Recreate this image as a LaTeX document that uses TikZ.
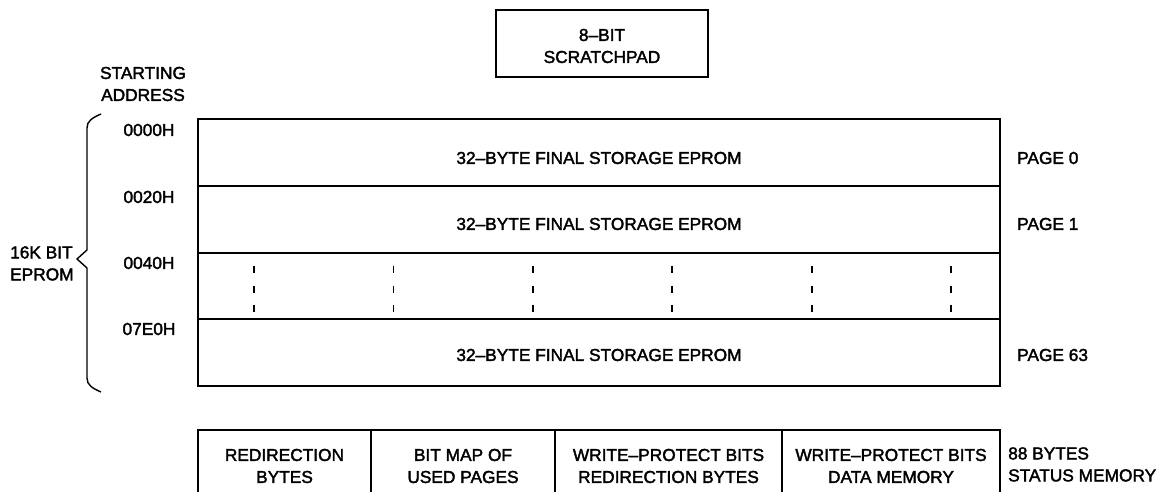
\documentclass[tikz,border=0pt]{standalone}
\usepackage{fontspec}
\setmainfont{Liberation Sans}[FakeBold=2]
\begin{document}
\begin{tikzpicture}[x=1pt,y=-1pt,
  lbl/.style={inner sep=0pt, font=\fontsize{17.3}{22}\selectfont, align=center},
  lbll/.style={lbl, align=left, anchor=west},
  rowbox/.style={draw, line width=1.8pt, minimum width=802pt, minimum height=66.75pt, inner sep=0pt},
  thin/.style={line width=1.5pt},
  dsh/.style={line width=1.8pt}
]
\useasboundingbox (0,0) rectangle (1160,492);
% scratchpad
\node[draw, line width=1.5pt, minimum width=212pt, minimum height=67pt, inner sep=0pt] (sp) at (602,43.5) {};
\node[lbl] (spt) at (602,46) {8–BIT\\SCRATCHPAD};
% header
\node[lbl] (sa) at (143,84) {STARTING\\ADDRESS};
% rows
\node[rowbox] (r0) at (599,152.5) {};
\node[rowbox] (r1) at (599,219.25) {};
\node[rowbox] (r2) at (599,286) {};
\node[rowbox] (r3) at (599,352.75) {};
\node[lbl] (t0) at (599,158) {32–BYTE FINAL STORAGE EPROM};
\node[lbl] (t1) at (599,224) {32–BYTE FINAL STORAGE EPROM};
\node[lbl] (t3) at (599,355) {32–BYTE FINAL STORAGE EPROM};
% dashes
\foreach \i in {0,...,5}{
  \foreach \yy in {269,289,308}{
    \draw[dsh] (254+139.4*\i,\yy-3.5) -- (254+139.4*\i,\yy+3.5);
  }
}
% addresses
\node[lbl] (a0) at (149,130) {0000H};
\node[lbl] (a1) at (149,197) {0020H};
\node[lbl] (a2) at (149,263) {0040H};
\node[lbl] (a3) at (149,329) {07E0H};
% pages
\node[lbll] (p0) at (1017,158) {PAGE 0};
\node[lbll] (p1) at (1017,224) {PAGE 1};
\node[lbll] (p3) at (1017,355) {PAGE 63};
% brace
\coordinate (bt) at (101,114);
\coordinate (bb) at (101,392);
\coordinate (bm) at (77,259);
\draw[line width=1.4pt] (bt) .. controls (92,118) and (87,121) .. (87,128) -- (87,250) -- (bm) -- (87,268) -- (87,378) .. controls (87,385) and (92,388) .. (bb);
\node[lbll] (ep) at (10,265) {\begin{tabular}{@{}l@{}}16K BIT\\EPROM\end{tabular}};
% status memory
\coordinate (s0) at (198,430);
\coordinate (s1) at (371,430);
\coordinate (s2) at (555,430);
\coordinate (s3) at (782,430);
\coordinate (s4) at (1000,430);
\draw[thin] (198,493) -- (s0) -- (s4) -- (1000,493);
\draw[thin] (s1) -- (371,493);
\draw[thin] (s2) -- (555,493);
\draw[thin] (s3) -- (782,493);
\node[lbl] (b1) at (284.5,466) {REDIRECTION\\BYTES};
\node[lbl] (b2) at (463,466) {BIT MAP OF\\USED PAGES};
\node[lbl] (b3) at (668.5,466) {WRITE–PROTECT BITS\\REDIRECTION BYTES};
\node[lbl] (b4) at (891,466) {WRITE–PROTECT BITS\\DATA MEMORY};
\node[lbll] (b5) at (1008,466) {\begin{tabular}{@{}l@{}}88 BYTES\\STATUS MEMORY\end{tabular}};
\end{tikzpicture}
\end{document}
